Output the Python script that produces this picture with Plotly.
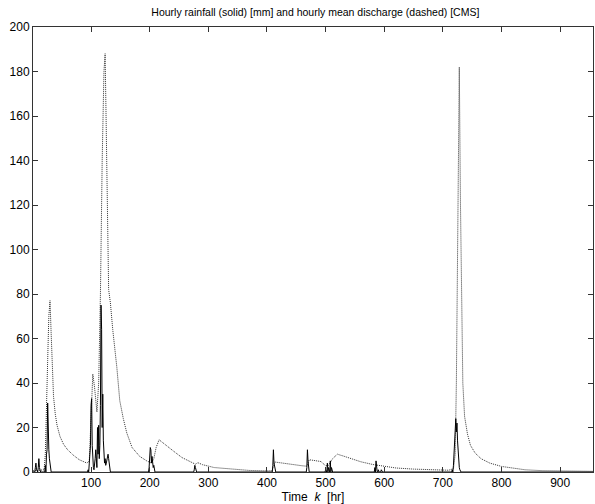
import numpy as np
import plotly.graph_objects as go

# hourly rainfall [mm] - nonzero hours only, everything else is zero
rain_hour = [5, 6, 7, 10, 11, 12, 22, 24, 25, 26, 27, 28, 29, 30, 31,
             95, 97, 98, 99, 100, 101, 102, 103, 104, 105, 106, 107, 108, 109, 110,
             111, 112, 113, 114, 115, 116, 117, 118, 119, 120, 121, 122, 123, 124,
             125, 126, 127, 128, 129, 130, 131, 132,
             199, 200, 201, 202, 203, 204, 205, 206, 207, 208,
             276, 277, 278,
             410, 411, 412, 413,
             468, 469, 470, 471, 500, 503, 505, 508, 510,
             584, 586, 587, 590, 595,
             716, 718, 719, 720, 721, 722, 723, 724, 725, 726, 727, 728, 729]
rain_mm = [2, 4, 1, 2, 6, 2, 3, 8, 10, 31, 12, 10, 6, 3, 1,
           1, 4, 8, 12, 30, 33, 12, 4, 2, 1, 3, 6, 10, 4, 2,
           20, 8, 21, 6, 12, 30, 75, 64, 20, 35, 14, 8, 4, 6,
           3, 4, 5, 7, 8, 6, 3, 1,
           2, 5, 11, 10, 4, 7, 5, 2, 3, 1,
           1, 3, 2,
           3, 10, 4, 2,
           2, 10, 5, 2, 1, 4, 2, 5, 2,
           2, 5, 2, 1, 1,
           1, 3, 8, 14, 16, 24, 18, 22, 14, 8, 4, 2, 1]

# hourly mean discharge [CMS] read at key hours
q_hour = [1, 10, 20, 22, 24, 26, 28, 30, 32, 34, 36, 39, 42, 47, 53, 60, 70, 80, 93,
          97, 100, 103, 106, 110, 113, 116, 119, 122, 124, 126, 128, 130, 133, 137,
          144, 149, 155, 161, 170, 183, 195, 203, 207, 211, 216, 225, 240, 255, 270,
          278, 282, 290, 310, 340, 370, 400, 409, 413, 420, 440, 460, 468, 472, 480,
          492, 500, 505, 512, 520, 530, 545, 560, 580, 600, 620, 650, 680, 710, 718,
          721, 723, 725, 727, 728, 730, 732, 734, 737, 742, 747, 755, 765, 780, 800,
          820, 840, 870, 900, 956]
q_cms = [0.5, 0.6, 1, 8, 25, 50, 70, 77, 62, 46, 34, 26, 21, 16, 12.5, 10, 7.5, 5.5, 4,
         5, 25, 44, 38, 27, 40, 80, 140, 180, 188, 150, 110, 82, 76, 64,
         47, 32, 24, 17.5, 11, 7, 5, 4, 6, 11, 14.5, 12.5, 9.5, 6.5, 4.5,
         3.5, 4.2, 3.3, 2, 1.2, 0.7, 0.5, 0.6, 4.5, 4.2, 3.6, 2.8, 2.6, 5.5, 5.2,
         4.7, 2.8, 3, 6, 8, 7.2, 5.8, 4.6, 3.4, 2.6, 1.8, 1.3, 1.0, 0.8, 1.5,
         8, 40, 110, 165, 182, 120, 74, 40, 25, 17, 12, 8.5, 6, 4, 2.5,
         1.6, 1.0, 0.6, 0.4, 0.3]

hours = np.arange(1, 957)
rain = np.zeros(len(hours))
rain[np.array(rain_hour) - 1] = rain_mm

fig = go.Figure()
fig.add_trace(go.Scatter(x=q_hour, y=q_cms, mode='lines',
                         line=dict(color='#333333', width=1, dash='1px,1px'),
                         name='discharge'))
fig.add_trace(go.Scatter(x=hours, y=rain, mode='lines',
                         line=dict(color='black', width=1),
                         name='rainfall'))

axis_style = dict(showline=True, linecolor='#333333', linewidth=1, mirror='ticks',
                  ticks='inside', ticklen=5, tickcolor='#333333', showgrid=False,
                  zeroline=False, automargin=False,
                  tickfont=dict(size=12, color='black'))

fig.update_layout(
    width=595, height=504,
    margin=dict(l=33, r=2, t=27, b=32),
    paper_bgcolor='white', plot_bgcolor='white',
    font=dict(family='Liberation Sans, Arial, sans-serif', color='black'),
    showlegend=False,
    title=dict(text='Hourly rainfall (solid) [mm] and hourly mean discharge (dashed) [CMS]',
               x=0.53, xanchor='center', y=0.976, yanchor='middle',
               font=dict(size=10.5)),
    xaxis=dict(range=[1, 956], tickvals=list(range(100, 1000, 100)),
               title=dict(text='Time  <i>k</i>  [hr]', standoff=0, font=dict(size=12)),
               **axis_style),
    yaxis=dict(range=[0, 200], tickvals=list(range(0, 201, 20)), **axis_style),
)

# the page body has a default 8px margin; drop it so the figure sits at the corner
fig.write_html("out.html", config={'displayModeBar': False},
               post_script="document.body.style.margin='0';")
